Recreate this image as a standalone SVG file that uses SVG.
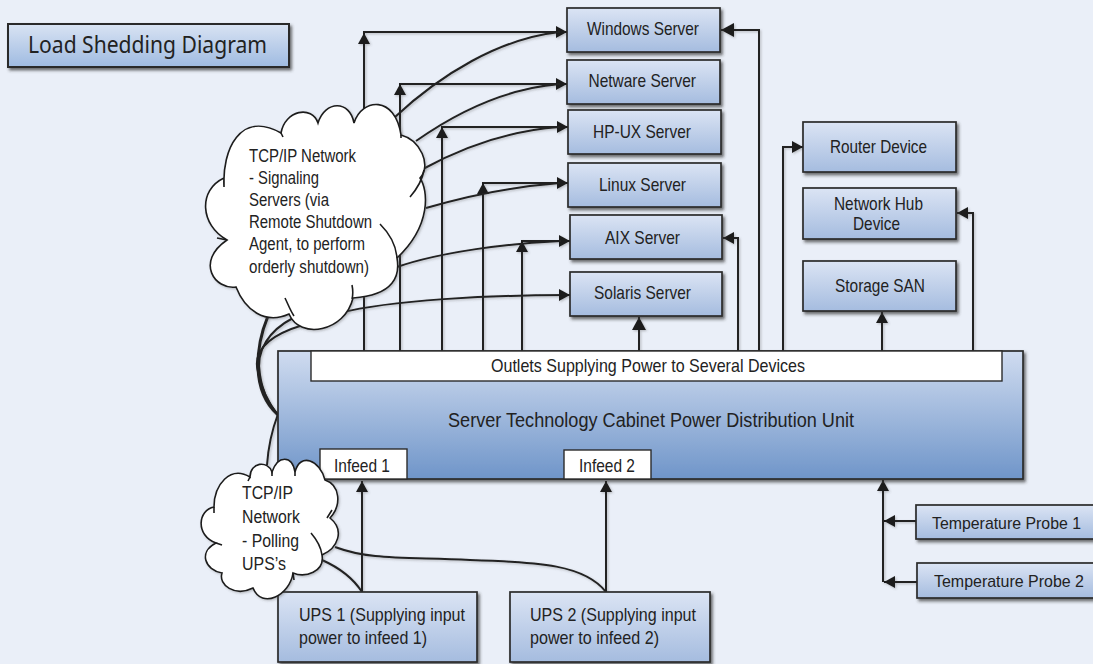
<svg xmlns="http://www.w3.org/2000/svg" width="1093" height="664" viewBox="0 0 1093 664">
<style>
.box{stroke:#2b2b2b;stroke-width:1.7;fill:url(#srv);filter:url(#sh)}
.white{stroke:#2b2b2b;stroke-width:1.4;fill:#fff}
.cloud{fill:#fff;stroke:#1c1c1c;stroke-width:1.6;stroke-linejoin:miter}
.tail{fill:none;stroke:#1c1c1c;stroke-width:1.6}
.c{fill:none;stroke:#222;stroke-width:2}
.t{font-family:"Liberation Sans",Arial,sans-serif;font-size:18.5px;fill:#222}
.p{font-size:17px}
.k{font-size:17.5px}
</style>
<defs>
<linearGradient id="srv" x1="0" y1="0" x2="0" y2="1"><stop offset="0" stop-color="#dbe4f4"/><stop offset="1" stop-color="#a5bcdf"/></linearGradient>
<linearGradient id="ttl" x1="0" y1="0" x2="0" y2="1"><stop offset="0" stop-color="#d9e3f3"/><stop offset="1" stop-color="#9fbbe1"/></linearGradient>
<linearGradient id="pdu" x1="0" y1="0" x2="0" y2="1"><stop offset="0" stop-color="#d0dcf0"/><stop offset="1" stop-color="#6f95c9"/></linearGradient>
<filter id="sh" x="-10%" y="-20%" width="120%" height="140%"><feDropShadow dx="2" dy="2.5" stdDeviation="1.6" flood-color="#333" flood-opacity=".7"/></filter>
<filter id="sl" x="-5%" y="-5%" width="110%" height="110%"><feDropShadow dx="1.2" dy="1.2" stdDeviation="1" flood-color="#555" flood-opacity=".35"/></filter>
<marker id="a" markerUnits="userSpaceOnUse" markerWidth="14" markerHeight="14" refX="11" refY="6" orient="auto"><path d="M0,0L11,6L0,12z" fill="#1c1c1c"/></marker>
<marker id="b" markerUnits="userSpaceOnUse" markerWidth="16" markerHeight="16" refX="13" refY="7" orient="auto"><path d="M0,0L13,7L0,14z" fill="#1c1c1c"/></marker>
</defs>
<rect width="1093" height="664" fill="#eaeff8"/>
<g id="connectors" filter="url(#sl)">
<path class="c" d="M364,351V32H567" marker-end="url(#a)"/>
<path class="c" d="M364,351V33" marker-end="url(#a)"/>
<path class="c" d="M400,351V84H567" marker-end="url(#a)"/>
<path class="c" d="M400,351V84" marker-end="url(#a)"/>
<path class="c" d="M442,351V127H568" marker-end="url(#a)"/>
<path class="c" d="M442,351V127" marker-end="url(#a)"/>
<path class="c" d="M483,351V183H568" marker-end="url(#a)"/>
<path class="c" d="M483,351V183" marker-end="url(#a)"/>
<path class="c" d="M522,351V241H570" marker-end="url(#a)"/>
<path class="c" d="M522,351V241" marker-end="url(#a)"/>
<path class="c" d="M395,117C440,75 500,38 560,32"/>
<path class="c" d="M416,141C460,110 510,88 560,84"/>
<path class="c" d="M421,170C470,143 515,130 560,127"/>
<path class="c" d="M426,208C470,195 520,186 560,183"/>
<path class="c" d="M397,267C440,252 510,243 561,241"/>
<path class="c" d="M340,313C390,300 490,295 570,295" marker-end="url(#a)"/>
<path class="c" d="M639,351V317" marker-end="url(#b)"/>
<path class="c" d="M738,351V238H723" marker-end="url(#a)"/>
<path class="c" d="M759,351V30H721" marker-end="url(#b)"/>
<path class="c" d="M783,351V147H803" marker-end="url(#a)"/>
<path class="c" d="M882,351V312" marker-end="url(#a)"/>
<path class="c" d="M973,351V213H957" marker-end="url(#a)"/>
<path class="c" d="M362,592V481" marker-end="url(#a)"/>
<path class="c" d="M606,592V481" marker-end="url(#a)"/>
<path class="c" d="M883,582V480" marker-end="url(#a)"/>
<path class="c" d="M916,521H884" marker-end="url(#a)"/>
<path class="c" d="M917,582H884" marker-end="url(#a)"/>
<path class="c" d="M322,560C340,568 353,578 362,592"/>
<path class="c" d="M335,547C370,560 400,557 470,560C540,562 585,565 606,592"/>
<path class="c" d="M268,316C256,345 250,390 278,415" style="stroke-width:3"/>
<path class="c" d="M293,318C270,330 255,350 260,375C263,395 270,405 278,415"/>
<path class="c" d="M303,325C270,335 252,350 258,372C262,392 270,405 278,415"/>
<path class="c" d="M278,414C272,430 268,450 267,465"/>
</g>
<g id="title"><rect x="8" y="24" width="281" height="43" fill="url(#ttl)" stroke="#2b2b2b" stroke-width="2" filter="url(#sh)"/><text class="t" x="28" y="53" style="font-family:'Noto Sans','Open Sans',sans-serif;font-size:23px" textLength="239" lengthAdjust="spacingAndGlyphs">Load Shedding Diagram</text></g>
<g id="windows"><rect class="box" x="567" y="8" width="153" height="44"/><text class="t" x="587" y="35" textLength="112" lengthAdjust="spacingAndGlyphs">Windows Server</text></g>
<g id="netware"><rect class="box" x="567" y="60" width="153" height="44"/><text class="t" x="588.5" y="87" textLength="107.5" lengthAdjust="spacingAndGlyphs">Netware Server</text></g>
<g id="hpux"><rect class="box" x="568" y="110" width="153" height="44"/><text class="t" x="593" y="138" textLength="98" lengthAdjust="spacingAndGlyphs">HP-UX Server</text></g>
<g id="linux"><rect class="box" x="568" y="163" width="153" height="44"/><text class="t" x="599" y="191" textLength="87" lengthAdjust="spacingAndGlyphs">Linux Server</text></g>
<g id="aix"><rect class="box" x="570" y="215" width="152" height="44"/><text class="t" x="605" y="244" textLength="75" lengthAdjust="spacingAndGlyphs">AIX Server</text></g>
<g id="solaris"><rect class="box" x="570" y="272" width="152" height="44"/><text class="t" x="594" y="299" textLength="97" lengthAdjust="spacingAndGlyphs">Solaris Server</text></g>
<g id="router"><rect class="box" x="803" y="122" width="153" height="50"/><text class="t" x="830" y="153" textLength="97" lengthAdjust="spacingAndGlyphs">Router Device</text></g>
<g id="hub"><rect class="box" x="803" y="188" width="153" height="51"/><text class="t" x="834" y="210" textLength="89" lengthAdjust="spacingAndGlyphs">Network Hub</text><text class="t" x="853" y="230" textLength="47" lengthAdjust="spacingAndGlyphs">Device</text></g>
<g id="storage"><rect class="box" x="803" y="261" width="153" height="50"/><text class="t" x="835" y="292" textLength="90" lengthAdjust="spacingAndGlyphs">Storage SAN</text></g>
<g id="pdu-unit"><rect x="278" y="351" width="745" height="128" fill="url(#pdu)" stroke="#2b2b2b" stroke-width="1.7" filter="url(#sh)"/><text class="t" x="448" y="427" style="font-size:20px" textLength="406" lengthAdjust="spacingAndGlyphs">Server Technology Cabinet Power Distribution Unit</text></g>
<g id="outlets"><rect class="white" x="311" y="351" width="691" height="30"/><text class="t" x="491" y="372" textLength="314" lengthAdjust="spacingAndGlyphs">Outlets Supplying Power to Several Devices</text></g>
<g id="infeed1"><rect class="white" x="320" y="449" width="87" height="30"/><text class="t" x="334" y="472" textLength="56" lengthAdjust="spacingAndGlyphs">Infeed 1</text></g>
<g id="infeed2"><rect class="white" x="564" y="450" width="87" height="29"/><text class="t" x="579" y="472" textLength="56" lengthAdjust="spacingAndGlyphs">Infeed 2</text></g>
<g id="ups1"><rect class="box" x="278" y="592" width="199" height="70"/><text class="t" x="299" y="621" textLength="166" lengthAdjust="spacingAndGlyphs">UPS 1 (Supplying input</text><text class="t" x="299" y="644" textLength="128" lengthAdjust="spacingAndGlyphs">power to infeed 1)</text></g>
<g id="ups2"><rect class="box" x="510" y="592" width="200" height="70"/><text class="t" x="530" y="621" textLength="166" lengthAdjust="spacingAndGlyphs">UPS 2 (Supplying input</text><text class="t" x="530" y="644" textLength="129" lengthAdjust="spacingAndGlyphs">power to infeed 2)</text></g>
<g id="probe1"><rect class="box" x="916" y="505" width="185" height="34"/><text class="t p" x="932" y="529" textLength="149" lengthAdjust="spacingAndGlyphs">Temperature Probe 1</text></g>
<g id="probe2"><rect class="box" x="917" y="563" width="185" height="35"/><text class="t p" x="934" y="587" textLength="150" lengthAdjust="spacingAndGlyphs">Temperature Probe 2</text></g>
<g id="cloud-signaling">
<path class="cloud" filter="url(#sl)" d="M224,187C222,150 240,110 281,133C285,110 312,105 318,123C325,100 350,100 354,123C362,98 395,95 401,135C420,140 432,165 420,178C428,190 432,225 397,258C400,275 395,295 353,298C345,332 300,340 289,314C265,325 245,310 236,287C215,290 195,262 227,240C200,225 198,190 224,178Z"/>
<path class="tail" d="M281,133L283,137M401,135L401,138M424,170C422,182 416,190 410,197M380,224C390,234 396,245 397,258M352,285C353,290 353,295 352,299M285,298C288,304 290,310 294,316M227,240L217,238"/>
<text class="t k" x="249" y="162" textLength="107" lengthAdjust="spacingAndGlyphs">TCP/IP Network</text>
<text class="t k" x="249" y="184" textLength="70" lengthAdjust="spacingAndGlyphs">- Signaling</text>
<text class="t k" x="249" y="206" textLength="80" lengthAdjust="spacingAndGlyphs">Servers (via</text>
<text class="t k" x="249" y="228" textLength="123" lengthAdjust="spacingAndGlyphs">Remote Shutdown</text>
<text class="t k" x="249" y="250" textLength="116" lengthAdjust="spacingAndGlyphs">Agent, to perform</text>
<text class="t k" x="249" y="273" textLength="120" lengthAdjust="spacingAndGlyphs">orderly shutdown)</text>
</g>
<g id="cloud-polling">
<path class="cloud" filter="url(#sl)" d="M214,507C214,485 230,465 250,477C250,462 268,460 272,472C278,455 292,455 295,472C300,452 320,460 325,480C340,485 342,505 330,518C345,530 338,548 322,555C325,572 305,578 293,573C290,595 262,610 253,588C235,597 218,585 222,573C205,570 198,552 216,543C195,535 198,510 214,507Z"/>
<path class="tail" d="M311,533C317,540 321,547 322,555M332,510L327,518M293,573L294,580M216,543L222,545M214,507L214,513M272,472L272,476M295,472L295,476M250,477L248,481"/>
<text class="t k" x="242" y="499" textLength="51" lengthAdjust="spacingAndGlyphs">TCP/IP</text>
<text class="t k" x="242" y="523" textLength="58" lengthAdjust="spacingAndGlyphs">Network</text>
<text class="t k" x="242" y="547" textLength="57" lengthAdjust="spacingAndGlyphs">- Polling</text>
<text class="t k" x="242" y="570" textLength="44" lengthAdjust="spacingAndGlyphs">UPS’s</text>
</g>
</svg>
